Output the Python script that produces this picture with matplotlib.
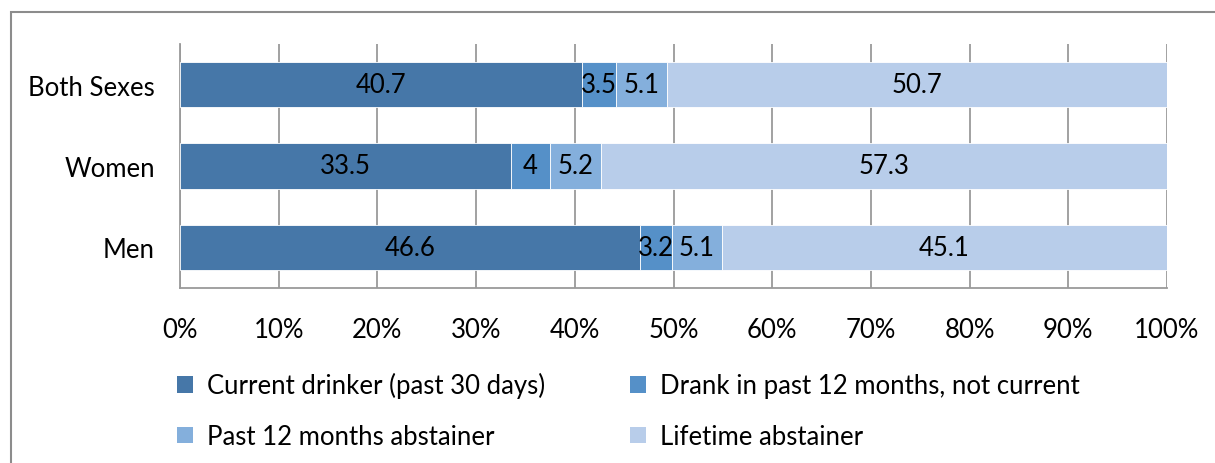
import matplotlib
matplotlib.use("Agg")
import matplotlib.pyplot as plt
from matplotlib.patches import Rectangle, Patch
import numpy as np

categories = ["Both Sexes", "Women", "Men"]
series_names = ["Current drinker (past 30 days)", "Drank in past 12 months, not current",
                "Past 12 months abstainer", "Lifetime abstainer"]
current = [40.7, 33.5, 46.6]
drank_not_current = [3.5, 4, 3.2]
past12_abstainer = [5.1, 5.2, 5.1]
lifetime_abstainer = [50.7, 57.3, 45.1]
value_labels = [["40.7", "33.5", "46.6"], ["3.5", "4", "3.2"], ["5.1", "5.2", "5.1"], ["50.7", "57.3", "45.1"]]
xtick_labels = ["0%", "10%", "20%", "30%", "40%", "50%", "60%", "70%", "80%", "90%", "100%"]

colors = ["#4677a8", "#5590c8", "#84afdc", "#b8cdea"]

plt.rcParams['font.family'] = ['Lato', 'DejaVu Sans']
fs = 18.5

fig = plt.figure(figsize=(12.15, 4.64), dpi=100)
ax = fig.add_axes([180/1215, 1-289/464, (1167-180)/1215, (289-45)/464])

ypos = np.arange(len(categories))
data = [current, drank_not_current, past12_abstainer, lifetime_abstainer]
left = np.zeros(len(categories))
for i, (vals, name, col) in enumerate(zip(data, series_names, colors)):
    vals = np.array(vals)
    bars = ax.barh(ypos, vals, left=left, height=0.56, color=col, edgecolor="white",
                   linewidth=0.6, label=name, zorder=3)
    for j, b in enumerate(bars):
        ax.text(left[j] + vals[j]/2, ypos[j], value_labels[i][j], ha="center", va="center",
                fontsize=fs, color="black", zorder=4)
    left = left + vals

ax.set_xlim(0, 100)
ax.set_ylim(len(categories) - 0.5, -0.5)
ax.set_yticks(ypos)
ax.set_yticklabels(categories, fontsize=fs)
ax.set_xticks(np.arange(0, 101, 10))
ax.set_xticklabels(xtick_labels, fontsize=fs)
ax.tick_params(axis="both", length=0)
ax.tick_params(axis="x", pad=21)
ax.tick_params(axis="y", pad=18)
ax.grid(axis="x", color="#9a9a9a", linewidth=1.3, zorder=0)
for s in ["top", "right"]:
    ax.spines[s].set_visible(False)
for s in ["left", "bottom"]:
    ax.spines[s].set_color("#9a9a9a")
    ax.spines[s].set_linewidth(1.3)

order = [0, 2, 1, 3]
leg_handles = [Patch(facecolor=colors[k], edgecolor="none") for k in order]
leg_labels = [series_names[k] for k in order]
fig.legend(leg_handles, leg_labels, ncol=2, loc="upper left",
           bbox_to_anchor=(154/1215, 1-350/464), frameon=False, fontsize=fs,
           handlelength=0.62, handleheight=0.62, handletextpad=0.55, columnspacing=3.3,
           labelspacing=1.0)

fig.add_artist(Rectangle((11/1215, -0.5), 2, 0.5 + 1 - 13/464, transform=fig.transFigure,
                         fill=False, edgecolor="#8c8c8c", linewidth=1.5))

fig.savefig("out.png", dpi=100)
